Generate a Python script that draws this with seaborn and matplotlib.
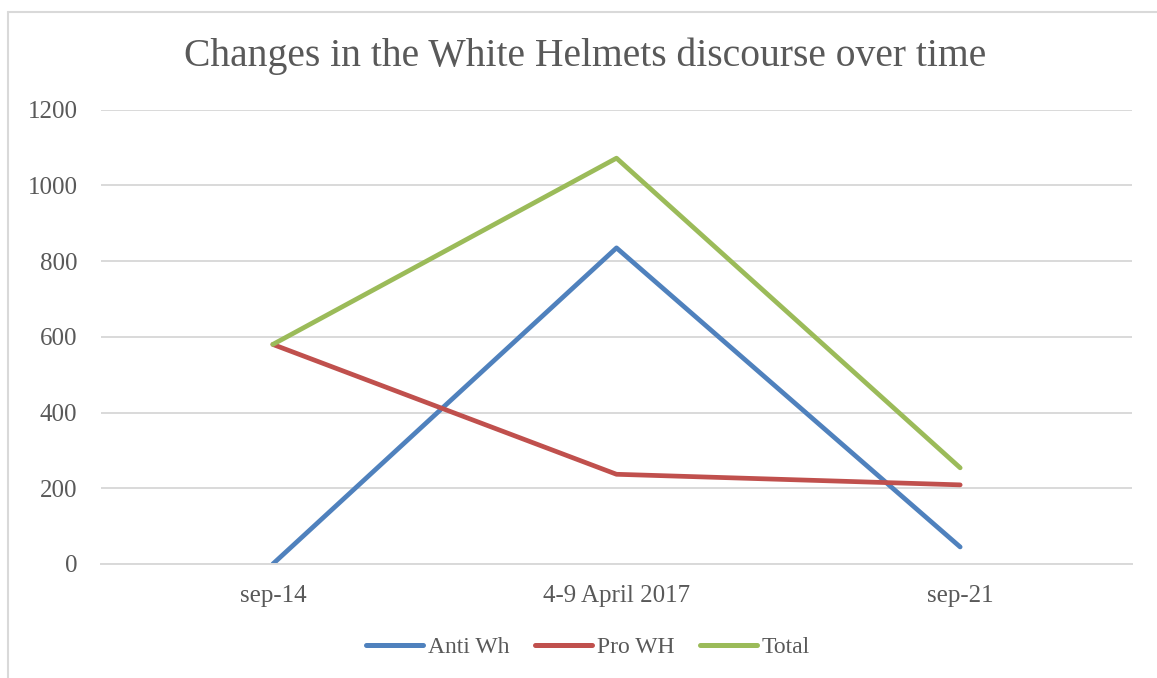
import matplotlib
matplotlib.use("Agg")
import matplotlib.pyplot as plt
from matplotlib.lines import Line2D
import seaborn as sns
import pandas as pd

categories = ["sep-14", "4-9 April 2017", "sep-21"]
anti_wh = [0, 835, 45]
pro_wh = [580, 237, 209]
total = [580, 1072, 254]
series_names = ["Anti Wh", "Pro WH", "Total"]
colors = ["#4F81BD", "#C0504D", "#9BBB59"]
y_ticks = [0, 200, 400, 600, 800, 1000, 1200]

rows = []
for name, vals in zip(series_names, [anti_wh, pro_wh, total]):
    for c, v in zip(categories, vals):
        rows.append({"period": c, "value": v, "series": name})
df = pd.DataFrame(rows)

sns.set_theme(style="white")
plt.rcParams["font.family"] = ["Liberation Serif", "DejaVu Serif"]
text_color = "#595959"
grid_color = "#D9D9D9"

W, H = 1157, 678
fig = plt.figure(figsize=(W / 100, H / 100), dpi=100)
ax = fig.add_axes([101 / W, 1 - 564 / H, (1132 - 101) / W, (564 - 109.7) / H])

sns.lineplot(data=df, x="period", y="value", hue="series", palette=colors,
             hue_order=series_names, linewidth=3.4, ax=ax, sort=False,
             solid_capstyle="round", legend=False)

ax.set_xlim(-0.5, 2.5)
ax.set_ylim(0, 1200)
ax.set_yticks(y_ticks)
ax.set_yticklabels([str(t) for t in y_ticks])
ax.set_xticks(range(len(categories)))
ax.set_xticklabels(categories)
ax.set_xlabel("")
ax.set_ylabel("")
ax.grid(axis="y", color=grid_color, linewidth=1.4)
ax.set_axisbelow(True)
for s in ["left", "right", "top"]:
    ax.spines[s].set_visible(False)
ax.spines["bottom"].set_color(grid_color)
ax.spines["bottom"].set_linewidth(1.4)
ax.tick_params(axis="y", length=0, pad=17, labelsize=18, labelcolor=text_color)
ax.tick_params(axis="x", length=0, pad=15, labelsize=18, labelcolor=text_color)

handles = [Line2D([0], [0], color=c, lw=3.6, solid_capstyle="round") for c in colors]
fig.legend(handles, series_names, loc="center", bbox_to_anchor=(588 / W, 1 - 647 / H),
           ncol=3, frameon=False, fontsize=17, handlelength=2.4, handletextpad=0.2,
           columnspacing=1.1, labelcolor=text_color)

fig.text(585 / W, 1 - 56 / H, "Changes in the White Helmets discourse over time",
         ha="center", va="center", fontsize=28.5, color=text_color)

# chart area border
fig.add_artist(Line2D([8 / W, 8 / W], [0, 1 - 12 / H], color=grid_color, lw=1.5))
fig.add_artist(Line2D([8 / W, 1], [1 - 12 / H, 1 - 12 / H], color=grid_color, lw=1.5))

fig.savefig("out.png", dpi=100)
